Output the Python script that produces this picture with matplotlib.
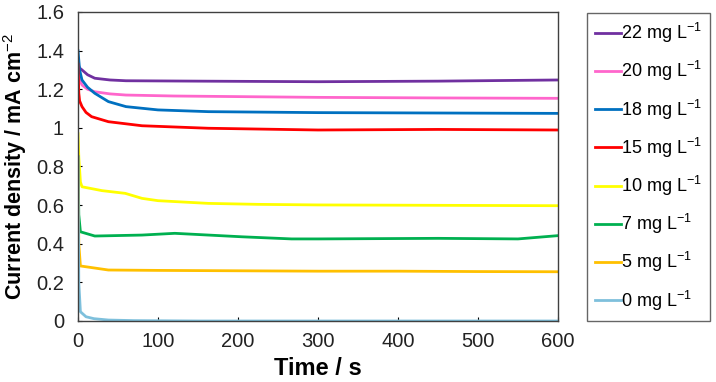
import matplotlib
matplotlib.use("Agg")
import matplotlib.pyplot as plt

plt.rcParams["font.family"] = ["Liberation Sans", "DejaVu Sans"]
plt.rcParams["mathtext.fontset"] = "custom"
plt.rcParams["mathtext.rm"] = "Liberation Sans"
plt.rcParams["mathtext.bf"] = "Liberation Sans:bold"

# time (s) / current density (mA cm-2)
labels = ["22", "20", "18", "15", "10", "7", "5", "0"]
colors = ["#7030a0", "#ff66cc", "#0070c0", "#ff0000", "#ffff00",
          "#00b050", "#ffc000", "#7ec0dc"]

t_22 = [0, 2, 5, 12, 21, 40, 60, 150, 300, 450, 600]
j_22 = [1.33, 1.31, 1.30, 1.275, 1.257, 1.248, 1.244, 1.242, 1.239, 1.242, 1.248]

t_20 = [0, 2, 5, 12, 21, 40, 60, 120, 300, 450, 600]
j_20 = [1.30, 1.25, 1.222, 1.20, 1.187, 1.176, 1.170, 1.165, 1.158, 1.155, 1.153]

t_18 = [0, 2, 5, 12, 21, 38, 60, 100, 163, 300, 450, 600]
j_18 = [1.40, 1.30, 1.248, 1.21, 1.179, 1.136, 1.110, 1.093, 1.084, 1.079, 1.077, 1.075]

t_15 = [0, 1, 2, 5, 10, 17, 38, 80, 163, 300, 450, 600]
j_15 = [1.33, 1.18, 1.14, 1.11, 1.08, 1.058, 1.032, 1.011, 0.998, 0.989, 0.992, 0.989]

t_10 = [0, 1, 3, 5, 30, 59, 80, 100, 163, 225, 300, 450, 600]
j_10 = [0.97, 0.85, 0.72, 0.695, 0.675, 0.661, 0.635, 0.623, 0.609, 0.604, 0.601, 0.599, 0.597]

t_7 = [0, 1, 3, 21, 80, 121, 205, 267, 300, 450, 550, 600]
j_7 = [0.85, 0.55, 0.462, 0.440, 0.445, 0.454, 0.436, 0.425, 0.425, 0.428, 0.425, 0.442]

t_5 = [0, 1, 3, 38, 100, 200, 300, 400, 500, 600]
j_5 = [0.85, 0.40, 0.285, 0.264, 0.262, 0.26, 0.258, 0.258, 0.256, 0.255]

t_0 = [0, 1, 3, 10, 20, 38, 70, 150, 300, 600]
j_0 = [0.85, 0.20, 0.048, 0.022, 0.012, 0.005, 0.002, 0.0, 0.0, 0.0]

times = [t_22, t_20, t_18, t_15, t_10, t_7, t_5, t_0]
currents = [j_22, j_20, j_18, j_15, j_10, j_7, j_5, j_0]

fig = plt.figure(figsize=(7.16, 3.82), dpi=100)
ax = fig.add_axes([78 / 716, 61 / 382, 480 / 716, 309 / 382])

for lab, c, t, j in zip(labels, colors, times, currents):
    ax.plot(t, j, color=c, lw=2, label=f"{lab} mg L$^{{-1}}$")

ax.set_xlim(0, 600)
ax.set_ylim(0, 1.6)
ax.set_xticks(range(0, 601, 100))
ax.set_yticks([0, 0.2, 0.4, 0.6, 0.8, 1, 1.2, 1.4, 1.6])
ax.set_yticklabels(["0", "0.2", "0.4", "0.6", "0.8", "1", "1.2", "1.4", "1.6"])
ax.tick_params(direction="in", labelsize=14.5, length=3, pad=8,
               labelcolor="#222222")
ax.tick_params(axis="y", pad=10)
for s in ax.spines.values():
    s.set_color("#404040")
    s.set_linewidth(1)

ax.set_xlabel("Time / s", fontsize=17, fontweight="bold", labelpad=4)
ax.set_ylabel("Current density / mA cm$^{-2}$", fontsize=15.5,
              fontweight="bold")
ax.yaxis.set_label_coords(-0.102, 0.5)

leg = fig.legend(loc="upper left", bbox_to_anchor=(587 / 716, 1 - 13 / 382),
                 fontsize=13, frameon=True, fancybox=False, handlelength=1.45,
                 handletextpad=0.0, labelspacing=0.78, borderpad=0.45,
                 borderaxespad=0)
leg.get_frame().set_edgecolor("#404040")
leg.get_frame().set_linewidth(1)

fig.savefig("out.png", dpi=100)
